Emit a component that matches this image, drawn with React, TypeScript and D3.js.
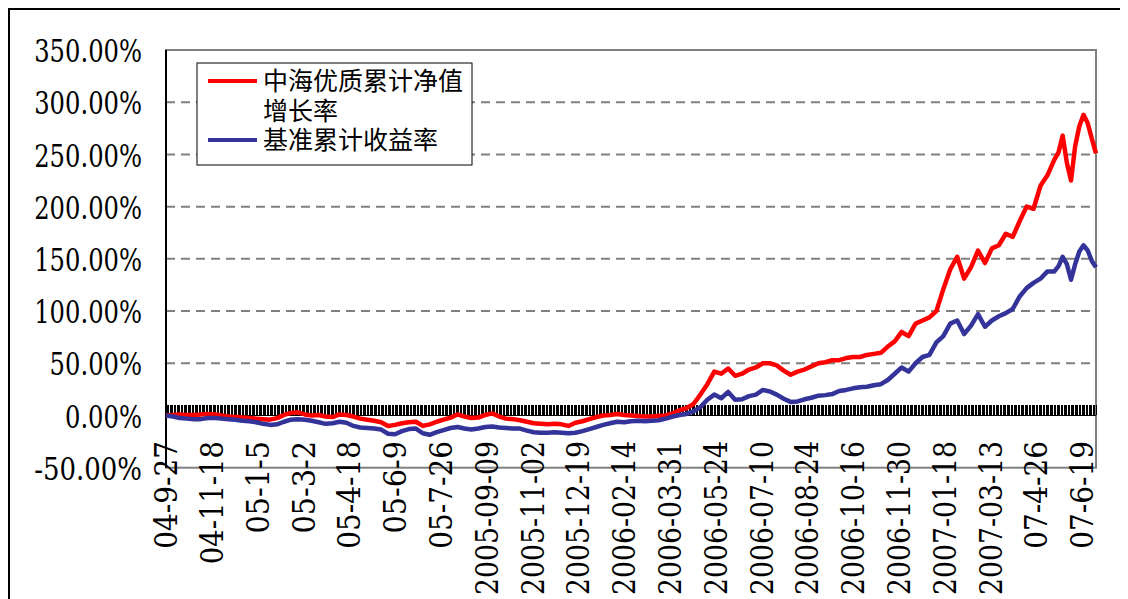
import React from "react";
import * as d3 from "d3";

// category axis: one category per trading day, label every 33 days
const xLabels = [
  "04-9-27", "04-11-18", "05-1-5", "05-3-2", "05-4-18", "05-6-9", "05-7-26",
  "2005-09-09", "2005-11-02", "2005-12-19", "2006-02-14", "2006-03-31",
  "2006-05-24", "2006-07-10", "2006-08-24", "2006-10-16", "2006-11-30",
  "2007-01-18", "2007-03-13", "07-4-26", "07-6-19",
];
const LABEL_EVERY = 33;
const TRADING_DAYS = 671;

const yTicks = [-50, 0, 50, 100, 150, 200, 250, 300, 350];

// trading-day index of each value
const sampleDay = [...d3.range(0, 641, 5), 643, 646, 649, 652, 655, 658, 661, 664, 667, 670];

// 中海优质累计净值增长率 (%)
const fundReturn = [
  0, 0.5, 1, 0.5, 0.5, 1, 1.5, 1, 0, -1,
  -1.5, -2, -2.5, -3, -3.5, -4, -2.5, 0.5, 2.5, 3,
  1, 0, 0.5, -1, -1.5, 1, 0.5, -1, -3, -4,
  -5, -6.5, -10, -9, -7.5, -6.5, -6, -10, -8.5, -6,
  -4, -2, 1, -1, -2.5, -2, 0.5, 2, -1, -3,
  -3.5, -4.5, -6, -7.5, -8, -8.5, -8, -8.5, -10, -7,
  -5.5, -3.5, -1.5, 0, 0.5, 1.5, 0.5, 0, -0.5, -1,
  -1, -0.5, 0, 2, 5, 7, 11, 20, 30, 42,
  40, 45, 38, 40, 44, 46, 50, 50, 48, 43,
  39, 42, 44, 47, 50, 51, 53, 53, 55, 56,
  56, 58, 59, 60, 66, 71, 80, 76, 88, 91,
  94, 100, 121, 140, 152, 131, 142, 158, 146, 160,
  163, 174, 171, 186, 200, 198, 220, 230, 245,
  252, 268, 242, 225, 258, 277, 288, 280, 265, 251,
];

// 基准累计收益率 (%)
const benchReturn = [
  0, -1, -2.5, -3, -3.5, -3.5, -2.5, -2.5, -3, -3.5,
  -4, -5, -5.5, -6.5, -8, -9, -8.5, -6, -4, -3.5,
  -4, -5, -6.5, -8, -7.5, -6, -7, -10, -11.5, -12,
  -12.5, -13.5, -17.5, -18, -15, -13, -12.5, -17, -18.5, -16,
  -14, -12, -11, -12.5, -13.5, -12.5, -11, -10.5, -11.5, -12,
  -12.5, -12.5, -14.5, -16, -16.5, -16.5, -16, -16.5, -17, -16.5,
  -15, -13, -11, -9, -7.5, -6, -6.5, -5.5, -5, -5.5,
  -5, -4.5, -3, -1, 0.5, 1.5, 4, 8, 15, 20,
  16.5, 22.5, 15, 15.5, 18.5, 20, 24.5, 23, 20, 16,
  13, 13.5, 15.5, 17, 19, 19.5, 20.5, 23.5, 24.5, 26,
  27, 27.5, 29, 30, 34, 40, 46, 42, 50, 56,
  58, 70, 76, 88, 91, 78, 86, 97, 85, 91,
  95, 98, 102, 114, 122, 127, 131, 138, 138,
  143, 152, 145, 130, 145, 157, 163, 158, 148, 142,
];

const legendFund = ["中海优质累计净值", "增长率"];
const legendBench = "基准累计收益率";

const FUND_COLOR = "#ff0000";
const BENCH_COLOR = "#333399";
const GRID_COLOR = "#808080";
const NUM_FONT = "DejaVu Serif";
const CJK_FONT = "Noto Sans CJK SC, sans-serif";
const CHAR_W = 15.4;

// plot area in page coordinates
const plot = { left: 166, right: 1096, top: 50, bottom: 467.7 };

export default function App() {
  const x = d3.scaleLinear().domain([0, TRADING_DAYS - 1]).range([plot.left, plot.right]);
  const y = d3.scaleLinear().domain([-50, 350]).range([plot.bottom, plot.top]);

  const line = d3
    .line<number>()
    .x((_d, i) => x(sampleDay[i]))
    .y((d) => y(d));

  const y0 = y(0);
  const gridVals = yTicks.filter((v) => v > -50 && v < 350 && v !== 0);
  const numStyle = { fontFamily: NUM_FONT, fontSize: "31px" };
  const cjkStyle = { fontFamily: CJK_FONT, fontSize: "25px" };

  return (
    <svg width={1120} height={591} style={{ display: "block" }}>
      <g transform="translate(-8,-8)">
        <rect x={0} y={0} width={1200} height={700} fill="#fff" />
        <rect x={9} y={9} width={1200} height={700} fill="none" stroke="#000" strokeWidth={2} />

        {gridVals.map((v) => (
          <line
            key={v}
            x1={plot.left}
            x2={plot.right}
            y1={y(v)}
            y2={y(v)}
            stroke={GRID_COLOR}
            strokeWidth={2}
            strokeDasharray="9,6"
          />
        ))}

        <rect
          x={plot.left}
          y={plot.top}
          width={plot.right - plot.left}
          height={plot.bottom - plot.top}
          fill="none"
          stroke={GRID_COLOR}
          strokeWidth={2}
        />
        <line x1={plot.left} x2={plot.left} y1={plot.top} y2={plot.bottom} stroke="#000" strokeWidth={2} />

        {/* category axis at 0% with a tick for every trading day */}
        <g shapeRendering="crispEdges">
          {d3.range(TRADING_DAYS).map((i) => (
            <line key={i} x1={x(i)} x2={x(i)} y1={y0} y2={y0 - 10} stroke="#000" strokeWidth={1} />
          ))}
          <line x1={plot.left} x2={plot.right} y1={y0} y2={y0} stroke="#000" strokeWidth={1} />
        </g>

        <path d={line(fundReturn) || ""} fill="none" stroke={FUND_COLOR} strokeWidth={4.5} strokeLinejoin="round" />
        <path d={line(benchReturn) || ""} fill="none" stroke={BENCH_COLOR} strokeWidth={4.5} strokeLinejoin="round" />

        {yTicks.map((v) => {
          const s = `${v.toFixed(2)}%`;
          return (
            <text
              key={v}
              x={142}
              y={y(v) + 1}
              dy="0.36em"
              textAnchor="end"
              style={numStyle}
              textLength={s.length * CHAR_W}
              lengthAdjust="spacingAndGlyphs"
              fill="#000"
            >
              {s}
            </text>
          );
        })}

        {xLabels.map((lab, k) => (
          <text
            key={lab}
            transform={`translate(${x(k * LABEL_EVERY)},441) rotate(-90)`}
            dy="0.36em"
            textAnchor="end"
            style={numStyle}
            textLength={lab.length * CHAR_W}
            lengthAdjust="spacingAndGlyphs"
            fill="#000"
          >
            {lab}
          </text>
        ))}

        {/* legend */}
        <rect x={197} y={63} width={275} height={102} fill="#fff" stroke="#000" strokeWidth={1} />
        <line x1={208} x2={257} y1={81} y2={81} stroke={FUND_COLOR} strokeWidth={4} />
        <line x1={208} x2={257} y1={140} y2={140} stroke={BENCH_COLOR} strokeWidth={4} />
        <text x={263} y={81} style={cjkStyle} fill="#000">
          {legendFund.map((t, i) => (
            <tspan key={t} x={263} dy={i === 0 ? "0.36em" : 29.5}>
              {t}
            </tspan>
          ))}
        </text>
        <text x={263} y={140} dy="0.36em" style={cjkStyle} fill="#000">
          {legendBench}
        </text>
      </g>
    </svg>
  );
}
